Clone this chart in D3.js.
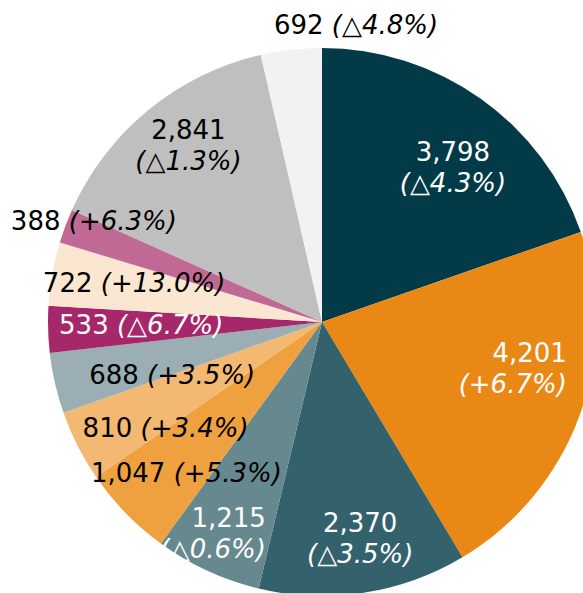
<!DOCTYPE html>
<html>
<head>
<meta charset="utf-8">
<script src="https://cdn.jsdelivr.net/npm/d3@7"></script>
<style>
  html, body { margin: 0; padding: 0; background: #fff; }
  .pie-chart text { font-family: "DejaVu Sans", Verdana, sans-serif; font-size: 26px; }
</style>
</head>
<body>
<div class="pie-chart"></div>
<script>
// values, clockwise from 12 o'clock
var values = [3798, 4201, 2370, 1215, 1047, 810, 688, 533, 722, 388, 2841, 692];
var changes = ["△4.3%", "+6.7%", "△3.5%", "△0.6%", "+5.3%", "+3.4%", "+3.5%", "△6.7%", "+13.0%", "+6.3%", "△1.3%", "△4.8%"];

var colors = ["#033a48", "#e98814", "#33616c", "#66888f", "#efa03f", "#f3b871", "#9aaeb4",
              "#a6286a", "#fbe7d1", "#c16995", "#bfbfbf", "#f2f2f2"];
var textColors = ["#fff", "#fff", "#fff", "#fff", "#000", "#000", "#000", "#fff", "#000", "#000", "#000", "#000"];

// label layout: two lines or one, radius as fraction of pie radius, angle nudge (deg), anchor
var twoLine = [true, true, true, true, false, false, false, false, false, false, true, false];
var labelR  = [0.74, 0.909, 0.80, 0.797, 0.74, 0.69, 0.58, 0.66, 0.70, 0.91, 0.81, 1.09];
var labelDA = [4.8, -9.4, -1.3, -9.8, -3.8, -7.3, -6.6, 0.5, 1.5, 3.3, 2.4, 13];
var anchors = ["middle", "end", "middle", "end", "middle", "middle", "middle", "middle", "middle", "middle", "middle", "middle"];

var width = 583,
    height = 593,
    radius = 274;

var fmt = d3.format(",");
var pie = d3.pie().sort(null).value(function(d) { return d; });
var arc = d3.arc().innerRadius(0).outerRadius(radius);

var svg = d3.select('.pie-chart').append("svg").attr("width", width).attr("height", height)
    .append("g").attr("transform", "translate(322,322)");

var arcs = pie(values);

svg.selectAll(".slice").data(arcs).enter().append("path")
    .attr("class", "slice")
    .attr("d", arc)
    .style("fill", function(d, i) { return colors[i]; });

var labels = svg.selectAll(".label").data(arcs).enter().append("text")
    .attr("class", "label")
    .attr("text-anchor", function(d, i) { return anchors[i]; })
    .style("fill", function(d, i) { return textColors[i]; })
    .attr("transform", function(d, i) {
        var a = (d.startAngle + d.endAngle) / 2 + labelDA[i] * Math.PI / 180;
        var r = labelR[i] * radius;
        return "translate(" + (r * Math.sin(a)) + "," + (-r * Math.cos(a)) + ")";
    });

labels.each(function(d, i) {
    var t = d3.select(this);
    if (twoLine[i]) {
        t.append("tspan").attr("x", 0).attr("y", -15).attr("dominant-baseline", "central").text(fmt(d.data));
        t.append("tspan").attr("x", 0).attr("y", 16).attr("dominant-baseline", "central")
            .style("font-style", "italic").text("(" + changes[i] + ")");
    } else {
        t.attr("dominant-baseline", "central");
        t.append("tspan").text(fmt(d.data) + " ");
        t.append("tspan").style("font-style", "italic").text("(" + changes[i] + ")");
    }
});
</script>
</body>
</html>
